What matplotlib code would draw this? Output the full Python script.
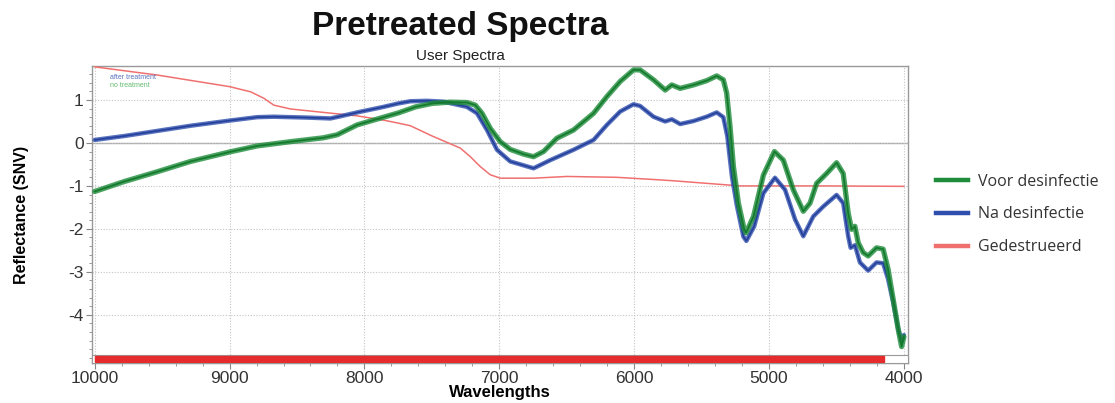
import matplotlib
matplotlib.use("Agg")
import matplotlib.pyplot as plt
from matplotlib.lines import Line2D
from matplotlib.patches import Rectangle
from matplotlib.ticker import MultipleLocator

plt.rcParams["font.family"] = ["Liberation Sans", "DejaVu Sans"]
plt.rcParams["axes.unicode_minus"] = False

# Spectra (wavenumber, SNV reflectance)
voor_x = [10000, 9783, 9536, 9289, 9000, 8795, 8548, 8304, 8202, 8054, 7857, 7747,
          7620, 7497, 7363, 7240, 7178, 7128, 7067, 6993, 6919, 6820, 6746, 6672,
          6573, 6450, 6301, 6202, 6104, 6005, 5956, 5857, 5770, 5721, 5659, 5560,
          5462, 5388, 5339, 5314, 5289, 5264, 5227, 5185, 5170, 5115, 5042, 4960,
          4894, 4820, 4746, 4696, 4647, 4573, 4499, 4450, 4413, 4388, 4363, 4339,
          4302, 4265, 4203, 4154, 4117, 4080, 4043, 4017, 4000]
voor_y = [-1.13, -0.90, -0.67, -0.43, -0.21, -0.07, 0.03, 0.12, 0.19, 0.42, 0.60, 0.70,
          0.84, 0.92, 0.95, 0.94, 0.88, 0.69, 0.34, 0.03, -0.15, -0.26, -0.32, -0.20,
          0.11, 0.30, 0.69, 1.08, 1.43, 1.70, 1.70, 1.47, 1.23, 1.35, 1.27, 1.35,
          1.45, 1.56, 1.47, 1.16, 0.38, -0.55, -1.40, -2.00, -2.09, -1.71, -0.75, -0.20,
          -0.40, -1.09, -1.59, -1.40, -0.94, -0.71, -0.46, -0.71, -1.63, -2.01, -1.94, -2.32,
          -2.55, -2.63, -2.44, -2.47, -2.94, -3.63, -4.32, -4.74, -4.51]

na_x = [10000, 9783, 9536, 9289, 9000, 8795, 8674, 8425, 8252, 8193, 8054, 7857,
        7747, 7659, 7536, 7413, 7240, 7165, 7091, 7017, 6919, 6746, 6622, 6450,
        6301, 6202, 6104, 6005, 5956, 5857, 5770, 5721, 5659, 5560, 5462, 5388,
        5339, 5309, 5275, 5239, 5190, 5168, 5110, 5042, 4956, 4881, 4807, 4746,
        4672, 4598, 4499, 4450, 4413, 4395, 4363, 4326, 4265, 4203, 4154, 4117,
        4080, 4043, 4017, 4000]
na_y = [0.07, 0.16, 0.28, 0.40, 0.52, 0.60, 0.61, 0.59, 0.57, 0.61, 0.71, 0.84,
        0.92, 0.97, 0.98, 0.96, 0.84, 0.69, 0.30, -0.16, -0.43, -0.59, -0.40, -0.16,
        0.07, 0.42, 0.73, 0.90, 0.86, 0.61, 0.50, 0.55, 0.44, 0.51, 0.61, 0.71,
        0.60, 0.15, -0.78, -1.45, -2.18, -2.28, -1.94, -1.17, -0.81, -1.09, -1.78, -2.17,
        -1.71, -1.48, -1.21, -1.40, -2.17, -2.44, -2.38, -2.78, -2.97, -2.78, -2.80, -3.17,
        -3.70, -4.32, -4.62, -4.47]

ged_x = [10000, 9536, 9000, 8844, 8746, 8672, 8548, 8302, 8054, 7857, 7747, 7659,
         7497, 7289, 7215, 7141, 7067, 6993, 6746, 6499, 6128, 5807, 5711, 5462,
         5215, 4600, 4000]
ged_y = [1.77, 1.58, 1.31, 1.19, 1.04, 0.88, 0.79, 0.71, 0.63, 0.53, 0.46, 0.40,
         0.16, -0.12, -0.32, -0.55, -0.74, -0.82, -0.82, -0.78, -0.80, -0.86, -0.88, -0.94,
         -1.00, -1.00, -1.01]

series_labels = ["Voor desinfectie", "Na desinfectie", "Gedestrueerd"]
inner_labels = ["after treatment", "no treatment"]
selected_range = (10000, 4150)
x_ticks = [10000, 9000, 8000, 7000, 6000, 5000, 4000]
y_ticks = [1, 0, -1, -2, -3, -4]

GREEN = "#1e8c3a"
BLUE = "#2f4fae"
RED = "#f07070"

fig = plt.figure(figsize=(11.15, 4.03), dpi=100)
ax = fig.add_axes([0.0825, 0.0993, 0.7318, 0.7369])

kw = dict(solid_capstyle="round", solid_joinstyle="round")
ax.plot(ged_x, ged_y, color=RED, lw=1.1, zorder=3, **kw)
ax.plot(na_x, na_y, color=BLUE, lw=3.2, alpha=0.8, zorder=4, **kw)
ax.plot(na_x, na_y, color="#24409a", lw=1.2, zorder=4, **kw)
ax.plot(voor_x, voor_y, color=GREEN, lw=3.8, alpha=0.8, zorder=5, **kw)
ax.plot(voor_x, voor_y, color="#157a2e", lw=1.3, zorder=5, **kw)

ax.set_xlim(10020, 3970)
ax.set_ylim(-5.12, 1.79)
ax.set_xticks(x_ticks)
ax.set_yticks(y_ticks)
ax.xaxis.set_minor_locator(MultipleLocator(200))
ax.yaxis.set_minor_locator(MultipleLocator(0.2))
ax.tick_params(axis="both", which="major", direction="out", length=4, color="#888888",
               labelsize=12.5, labelcolor="#333333", pad=2)
ax.tick_params(axis="both", which="minor", direction="out", length=2.5, color="#888888")

ax.grid(True, which="major", color="#c4c4c4", linestyle=(0, (1, 1.5)), lw=0.8)
ax.axhline(0, color="#aaaaaa", lw=1.0, zorder=1)
for s in ax.spines.values():
    s.set_color("#999999")
    s.set_linewidth(1.0)

# selection strip along the bottom
ax.add_patch(Rectangle((0, 0), 1, 0.027, transform=ax.transAxes, facecolor="white",
                       edgecolor="#999999", lw=0.8, zorder=6, clip_on=False))
ax.axvspan(selected_range[0], selected_range[1], ymin=0.002, ymax=0.025,
           color="#e52b2b", zorder=7)

ax.text(0.022, 0.955, inner_labels[0], transform=ax.transAxes, fontsize=5,
        color=BLUE, alpha=0.8)
ax.text(0.022, 0.928, inner_labels[1], transform=ax.transAxes, fontsize=5,
        color="#3aaa4a", alpha=0.8)

fig.text(0.4126, 0.935, "Pretreated Spectra", ha="center", va="center",
         fontsize=24, fontweight="bold", color="#111111")
fig.text(0.4126, 0.862, "User Spectra", ha="center", va="center",
         fontsize=11, color="#222222")
ax.set_xlabel("Wavelengths", fontsize=12, fontweight="bold", labelpad=-1)
ax.set_ylabel("Reflectance (SNV)", fontsize=11.5, fontweight="bold", labelpad=28)

handles = [Line2D([], [], color=GREEN, lw=3.2),
           Line2D([], [], color=BLUE, lw=3.2),
           Line2D([], [], color=RED, lw=3.2)]
leg = ax.legend(handles, series_labels, loc="center left", bbox_to_anchor=(1.027, 0.5),
                frameon=False, handlelength=2.0, handletextpad=0.6, labelspacing=1.05,
                borderaxespad=0.0, prop={"family": "Open Sans", "size": 11.5})
for t in leg.get_texts():
    t.set_color("#333333")

fig.savefig("out.png", dpi=100)
